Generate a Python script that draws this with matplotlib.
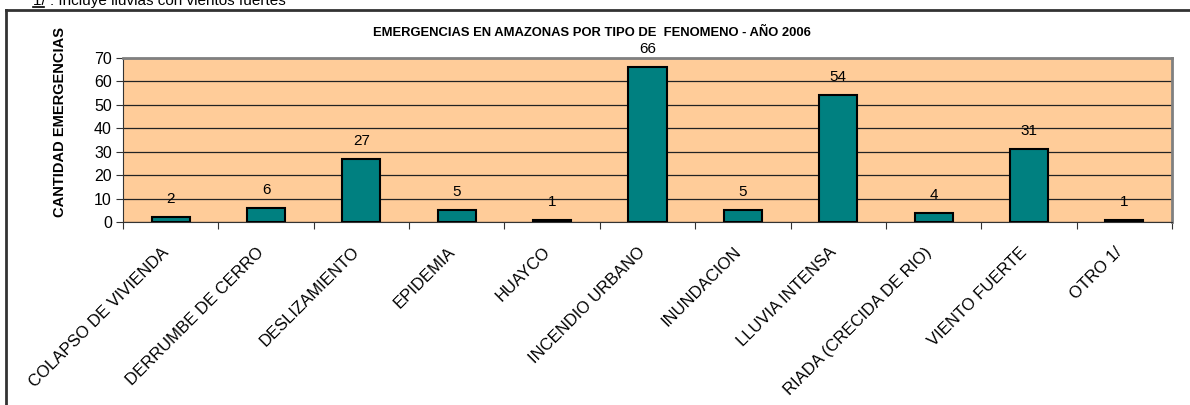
import matplotlib
matplotlib.use('Agg')
import matplotlib.pyplot as plt
from matplotlib.lines import Line2D
import numpy as np

plt.rcParams['font.family'] = ['Liberation Sans', 'DejaVu Sans']

categorias = ['COLAPSO DE VIVIENDA', 'DERRUMBE DE CERRO', 'DESLIZAMIENTO',
              'EPIDEMIA', 'HUAYCO', 'INCENDIO URBANO', 'INUNDACION',
              'LLUVIA INTENSA', 'RIADA (CRECIDA DE RIO)', 'VIENTO FUERTE',
              'OTRO 1/']
emergencias = [2, 6, 27, 5, 1, 66, 5, 54, 4, 31, 1]
yticks = [0, 10, 20, 30, 40, 50, 60, 70]

W, H = 1190, 405
fig = plt.figure(figsize=(W / 100, H / 100), dpi=100)
ax = fig.add_axes([123 / W, 1 - 222 / H, (1172 - 123) / W, (222 - 58) / H])

x = np.arange(len(categorias))
ax.set_facecolor('#FFCC99')
ax.bar(x, emergencias, width=0.4, color='#008080', edgecolor='black',
       linewidth=1.5, zorder=3)
for xi, v in zip(x, emergencias):
    ax.annotate(str(v), (xi, v), xytext=(0, 8), textcoords='offset points',
                ha='center', va='bottom', fontsize=11)

ax.set_xlim(-0.5, len(categorias) - 0.5)
ax.set_ylim(0, 70)
ax.set_yticks(yticks)
ax.yaxis.grid(True, color='#222222', linewidth=0.9, zorder=1)
ax.set_axisbelow(True)
ax.tick_params(axis='y', labelsize=11.5, length=5, color='#333333', pad=3)

# category boundaries get the ticks, labels sit under the bars
ax.set_xticks(np.arange(len(categorias) + 1) - 0.5)
ax.set_xticklabels([])
ax.tick_params(axis='x', length=5, color='#333333')
for xi, lab in zip(x, categorias):
    ax.annotate(lab, (xi, 0), xytext=(-3, -20), textcoords='offset points',
                ha='right', va='center', rotation=45, rotation_mode='anchor',
                fontsize=12, annotation_clip=False)

for s in ['top', 'right']:
    ax.spines[s].set_color('#808080')
    ax.spines[s].set_linewidth(2)
ax.spines['left'].set_color('#333333')
ax.spines['bottom'].set_color('#333333')

fig.text(592 / W, 1 - 33 / H, 'EMERGENCIAS EN AMAZONAS POR TIPO DE  FENOMENO - AÑO 2006',
         ha='center', va='center', fontsize=9.4, fontweight='bold')
fig.text(60 / W, 1 - 122 / H, 'CANTIDAD EMERGENCIAS', rotation=90,
         ha='center', va='center', fontsize=10.5, fontweight='bold')
fig.text(33 / W, 1 - 5 / H, '1/ : Incluye lluvias con vientos fuertes',
         ha='left', va='baseline', fontsize=11)
fig.add_artist(Line2D([33 / W, 44 / W], [1 - 7 / H, 1 - 7 / H], color='black',
                      linewidth=1.2, transform=fig.transFigure))

# outer chart frame
fig.add_artist(Line2D([6 / W, 1], [1 - 10 / H, 1 - 10 / H], color='#333333',
                      linewidth=2, transform=fig.transFigure))
fig.add_artist(Line2D([6 / W, 6 / W], [0, 1 - 10 / H], color='#333333',
                      linewidth=2, transform=fig.transFigure))

fig.savefig('out.png', dpi=100)
